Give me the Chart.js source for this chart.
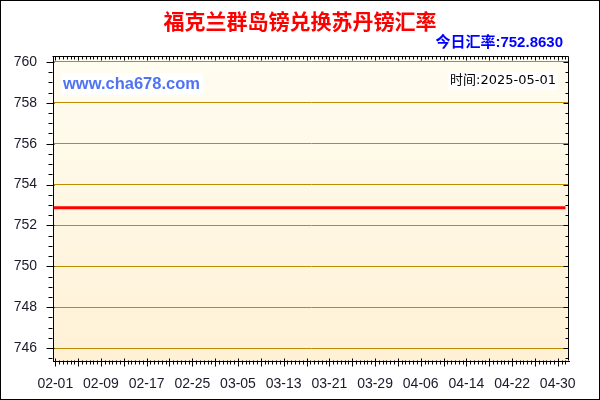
<!DOCTYPE html>
<html><head><meta charset="utf-8">
<script src="https://cdn.jsdelivr.net/npm/chart.js@4"></script>
<style>html,body{margin:0;padding:0;background:#fff}canvas{display:block}</style>
</head><body>
<canvas id="c" width="600" height="400"></canvas>
<script>
const titleText = '福克兰群岛镑兑换苏丹镑汇率';
const rateText = '今日汇率:752.8630';
const timeText = '时间:2025-05-01';
const siteText = 'www.cha678.com';

const dates = [
 '02-01','02-02','02-03','02-04','02-05','02-06','02-07','02-08','02-09','02-10',
 '02-11','02-12','02-13','02-14','02-15','02-16','02-17','02-18','02-19','02-20',
 '02-21','02-22','02-23','02-24','02-25','02-26','02-27','02-28',
 '03-01','03-02','03-03','03-04','03-05','03-06','03-07','03-08','03-09','03-10',
 '03-11','03-12','03-13','03-14','03-15','03-16','03-17','03-18','03-19','03-20',
 '03-21','03-22','03-23','03-24','03-25','03-26','03-27','03-28','03-29','03-30','03-31',
 '04-01','04-02','04-03','04-04','04-05','04-06','04-07','04-08','04-09','04-10',
 '04-11','04-12','04-13','04-14','04-15','04-16','04-17','04-18','04-19','04-20',
 '04-21','04-22','04-23','04-24','04-25','04-26','04-27','04-28','04-29','04-30'
];
const rates = [
 752.863,752.863,752.863,752.863,752.863,752.863,752.863,752.863,752.863,752.863,
 752.863,752.863,752.863,752.863,752.863,752.863,752.863,752.863,752.863,752.863,
 752.863,752.863,752.863,752.863,752.863,752.863,752.863,752.863,
 752.863,752.863,752.863,752.863,752.863,752.863,752.863,752.863,752.863,752.863,
 752.863,752.863,752.863,752.863,752.863,752.863,752.863,752.863,752.863,752.863,
 752.863,752.863,752.863,752.863,752.863,752.863,752.863,752.863,752.863,752.863,752.863,
 752.863,752.863,752.863,752.863,752.863,752.863,752.863,752.863,752.863,752.863,
 752.863,752.863,752.863,752.863,752.863,752.863,752.863,752.863,752.863,752.863,
 752.863,752.863,752.863,752.863,752.863,752.863,752.863,752.863,752.863,752.863
];
const xTickLabels = ['02-01','02-09','02-17','02-25','03-05','03-13','03-21','03-29','04-06','04-14','04-22','04-30'];
const yTickValues = [746,748,750,752,754,756,758,760];

const bgPlugin = {
  id: 'bg',
  beforeDraw(chart) {
    const {ctx, chartArea: a} = chart;
    ctx.save();
    ctx.fillStyle = '#fff';
    ctx.fillRect(0, 0, chart.width, chart.height);
    const g = ctx.createLinearGradient(0, a.top, 0, a.bottom);
    g.addColorStop(0, '#FFFDF1');
    g.addColorStop(1, '#FFF1D6');
    ctx.fillStyle = g;
    ctx.fillRect(a.left, a.top, a.right - a.left, a.bottom - a.top);
    ctx.restore();
  },
  afterDraw(chart) {
    const {ctx, chartArea: a, scales} = chart;
    const y = scales.y, x2 = scales.x2;
    ctx.save();
    ctx.strokeStyle = '#000';
    ctx.lineWidth = 1;
    ctx.beginPath();
    const T = Math.round(a.top) + 0.5, R = Math.round(a.right) - 0.5;
    const L = Math.round(a.left) - 0.5, B = Math.round(a.bottom) - 0.5;
    ctx.moveTo(L, T); ctx.lineTo(R, T);
    ctx.moveTo(R, T); ctx.lineTo(R, B);
    for (let v = Math.ceil(y.min * 2) / 2; v <= y.max; v += 0.5) {
      const p = Math.round(y.getPixelForValue(v)) + 0.5;
      const major = v % 2 === 0;
      ctx.moveTo(L - (major ? 6 : 4), p); ctx.lineTo(L + (major ? 2 : 0), p);
      ctx.moveTo(R - (major ? 5 : 3), p); ctx.lineTo(R, p);
    }
    const step = 8 / 12;
    for (let k = Math.ceil(x2.min / step); k * step <= x2.max; k++) {
      const p = Math.round(x2.getPixelForValue(k * step)) + 0.5;
      const major = k % 6 === 0;
      ctx.moveTo(p, B - (major ? 2 : 0)); ctx.lineTo(p, B + (major ? 6 : 4));
      ctx.moveTo(p, T); ctx.lineTo(p, T + (major ? 4 : 3));
    }
    ctx.stroke();
    ctx.strokeRect(0.5, 0.5, chart.width - 1, chart.height - 1);

    ctx.textBaseline = 'middle';
    ctx.fillStyle = '#FF0000';
    ctx.textAlign = 'center';
    ctx.font = 'bold 21px "Noto Sans CJK SC"';
    ctx.fillText(titleText, 300, 21);

    ctx.fillStyle = '#0000FF';
    ctx.textAlign = 'right';
    ctx.font = 'bold 15px "Liberation Sans", "Noto Sans CJK SC"';
    ctx.fillText(rateText, 563, 43);

    ctx.font = 'bold 16.5px "Liberation Sans"';
    let w = ctx.measureText(siteText).width;
    ctx.fillStyle = '#fff';
    ctx.fillRect(61, 73, w + 5, 22);
    ctx.fillStyle = '#4F73F2';
    ctx.textAlign = 'left';
    ctx.fillText(siteText, 63, 84);

    ctx.font = '13px "DejaVu Sans", "Noto Sans CJK SC"';
    w = ctx.measureText(timeText).width;
    ctx.fillStyle = '#fff';
    ctx.fillRect(556 - w - 2, 72, w + 4, 18);
    ctx.fillStyle = '#000';
    ctx.textAlign = 'right';
    ctx.fillText(timeText, 556, 81);
    ctx.restore();
  }
};

new Chart(document.getElementById('c'), {
  type: 'line',
  data: {
    datasets: [{
      data: rates.map((v, i) => ({x: i, y: v})),
      borderColor: '#FF0000',
      borderWidth: 3,
      pointRadius: 0,
      tension: 0,
      xAxisID: 'x',
      yAxisID: 'y'
    }]
  },
  options: {
    responsive: false,
    animation: false,
    devicePixelRatio: 1,
    layout: {padding: {top: 56, right: 31, left: 0, bottom: 0}},
    plugins: {legend: {display: false}, tooltip: {enabled: false}, title: {display: false}},
    scales: {
      x: {type: 'linear', display: false, min: -0.1, max: 88.6},
      x2: {
        type: 'linear', position: 'bottom', min: -0.4, max: 89.97,
        afterBuildTicks: s => { s.ticks = xTickLabels.map(l => ({value: dates.indexOf(l)})); },
        afterFit: s => { s.height = 39; },
        grid: {display: false},
        border: {display: true, color: '#000', width: 1},
        ticks: {
          autoSkip: false, maxRotation: 0, padding: 7,
          color: '#1a1a2a', font: {family: '"Liberation Sans"', size: 14},
          callback: v => dates[v]
        }
      },
      y: {
        type: 'linear', position: 'left', min: 745.37, max: 760.29,
        afterBuildTicks: s => { s.ticks = yTickValues.map(v => ({value: v})); },
        afterFit: s => { s.width = 53; },
        grid: {color: '#BE8C00', lineWidth: 1, drawTicks: false},
        border: {display: true, color: '#000', width: 1},
        ticks: {
          padding: 16, color: '#1a1a2a',
          font: {family: '"Liberation Sans"', size: 14},
          callback: v => String(v)
        }
      }
    }
  },
  plugins: [bgPlugin]
});
</script>
</body></html>
